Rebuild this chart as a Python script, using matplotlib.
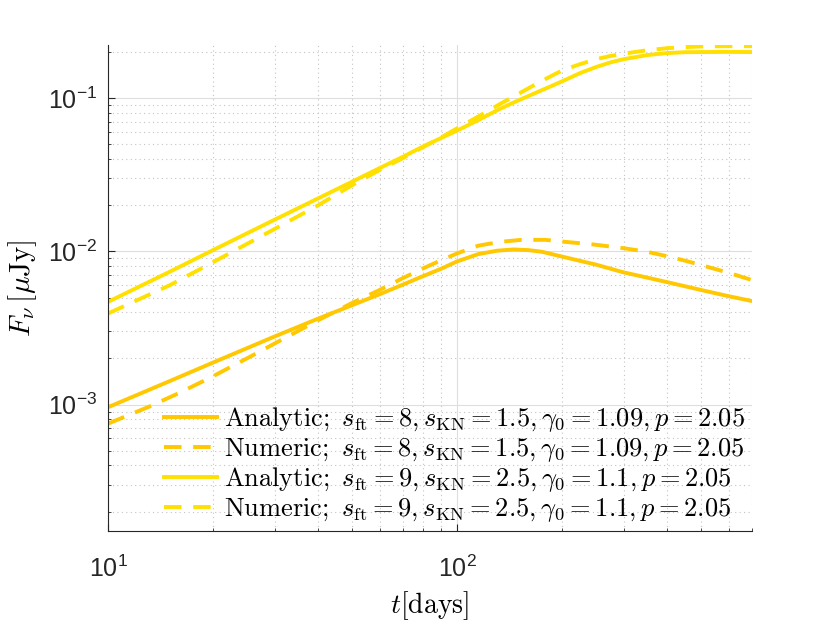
import matplotlib
matplotlib.use("Agg")
import matplotlib.pyplot as plt
from matplotlib.ticker import LogLocator, NullFormatter

plt.rcParams['font.family'] = ['Liberation Sans', 'DejaVu Sans']
plt.rcParams['mathtext.fontset'] = 'cm'

# ---- data ----
t_a8 = [10, 15, 20, 30, 40, 50, 60, 70, 80, 90, 100, 115, 130, 145, 160, 175, 200, 250, 300, 350, 400, 500, 600, 700]
f_a8 = [9.6e-4, 1.42e-3, 1.88e-3, 2.78e-3, 3.64e-3, 4.45e-3, 5.25e-3, 6.07e-3, 6.9e-3, 7.7e-3, 8.6e-3,
        9.6e-3, 1.01e-2, 1.03e-2, 1.02e-2, 9.95e-3, 9.25e-3, 8.2e-3, 7.3e-3, 6.75e-3, 6.3e-3, 5.6e-3, 5.1e-3, 4.74e-3]

t_n8 = [10, 13, 16, 20, 25, 30, 40, 50, 60, 70, 80, 90, 100, 115, 133, 153, 179, 200, 246, 300, 350, 400, 450, 500, 600, 700]
f_n8 = [7.5e-4, 9.6e-4, 1.19e-3, 1.53e-3, 2.0e-3, 2.5e-3, 3.55e-3, 4.6e-3, 5.6e-3, 6.7e-3, 7.75e-3, 8.75e-3, 9.7e-3,
        1.09e-2, 1.155e-2, 1.19e-2, 1.19e-2, 1.16e-2, 1.11e-2, 1.05e-2, 9.95e-3, 9.3e-3, 8.7e-3, 8.15e-3, 7.25e-3, 6.5e-3]

t_a9 = [10, 15, 20, 30, 40, 50, 60, 70, 80, 90, 100, 115, 133, 150, 175, 200, 225, 250, 275, 300, 350, 400, 450, 500, 600, 700]
f_a9 = [4.68e-3, 7.35e-3, 1.02e-2, 1.61e-2, 2.22e-2, 2.85e-2, 3.5e-2, 4.15e-2, 4.85e-2, 5.5e-2, 6.15e-2, 7.2e-2,
        8.55e-2, 9.7e-2, 0.113, 0.129, 0.146, 0.160, 0.1715, 0.180, 0.1915, 0.1975, 0.200, 0.2005, 0.201, 0.2005]

t_n9 = [10, 15, 20, 30, 40, 50, 60, 70, 80, 90, 100, 115, 133, 150, 175, 200, 225, 250, 275, 300, 350, 400, 450, 500, 600, 700]
f_n9 = [3.93e-3, 6.0e-3, 8.5e-3, 1.40e-2, 2.0e-2, 2.7e-2, 3.4e-2, 4.07e-2, 4.8e-2, 5.55e-2, 6.36e-2, 7.6e-2,
        9.2e-2, 0.107, 0.130, 0.152, 0.167, 0.180, 0.189, 0.1955, 0.206, 0.2125, 0.216, 0.218, 0.219, 0.219]

labels = [
    r'$\mathrm{Analytic;}\ s_{\mathrm{ft}}=8, s_{\mathrm{KN}}=1.5, \gamma_0=1.09, p=2.05$',
    r'$\mathrm{Numeric;}\ s_{\mathrm{ft}}=8, s_{\mathrm{KN}}=1.5, \gamma_0=1.09, p=2.05$',
    r'$\mathrm{Analytic;}\ s_{\mathrm{ft}}=9, s_{\mathrm{KN}}=2.5, \gamma_0=1.1, p=2.05$',
    r'$\mathrm{Numeric;}\ s_{\mathrm{ft}}=9, s_{\mathrm{KN}}=2.5, \gamma_0=1.1, p=2.05$',
]

c8 = '#FFC800'
c9 = '#FFE000'

fig = plt.figure(figsize=(8.3, 6.23), dpi=100)
ax = fig.add_axes([0.1301, 0.1482, 0.7759, 0.7796])

lw = 2.8
dash = (4.5, 3.0)
ax.plot(t_a8, f_a8, color=c8, lw=lw, label=labels[0])
ax.plot(t_n8, f_n8, color=c8, lw=lw, dashes=dash, label=labels[1])
ax.plot(t_a9, f_a9, color=c9, lw=lw, label=labels[2])
ax.plot(t_n9, f_n9, color=c9, lw=lw, dashes=dash, label=labels[3])

ax.set_xscale('log')
ax.set_yscale('log')
ax.set_xlim(10, 700)
ax.set_ylim(1.5e-4, 0.223)

ax.xaxis.set_minor_locator(LogLocator(base=10, subs=range(2, 10)))
ax.yaxis.set_minor_locator(LogLocator(base=10, subs=range(2, 10)))
ax.xaxis.set_minor_formatter(NullFormatter())
ax.yaxis.set_minor_formatter(NullFormatter())

ax.set_axisbelow(True)
ax.grid(True, which='major', color='#dedede', lw=0.8, ls='-')
ax.grid(True, which='minor', color='#c4c4c4', lw=0.8, ls=(0, (1, 3)))

for s in ['top', 'right']:
    ax.spines[s].set_visible(False)
for s in ['left', 'bottom']:
    ax.spines[s].set_color('#262626')
    ax.spines[s].set_linewidth(0.8)

ax.tick_params(which='both', direction='in', colors='#262626', top=False, right=False)
ax.tick_params(which='major', length=5, width=0.8, labelsize=18)
ax.tick_params(which='minor', length=2.5, width=0.6)
ax.tick_params(axis='x', which='major', pad=18)
ax.tick_params(axis='y', which='major', pad=8)

ax.set_xlabel(r'$t[\mathrm{days}]$', fontsize=20, labelpad=5)
ax.set_ylabel(r'$F_\nu\,[\mu\mathrm{Jy}]$', fontsize=21, labelpad=6)

leg = ax.legend(loc='lower right', bbox_to_anchor=(1.0, 0.0), frameon=False, fontsize=19,
                handlelength=2.0, handletextpad=0.3, labelspacing=0.06, borderaxespad=0.1, borderpad=0.15)

fig.savefig('out.png', dpi=100)
